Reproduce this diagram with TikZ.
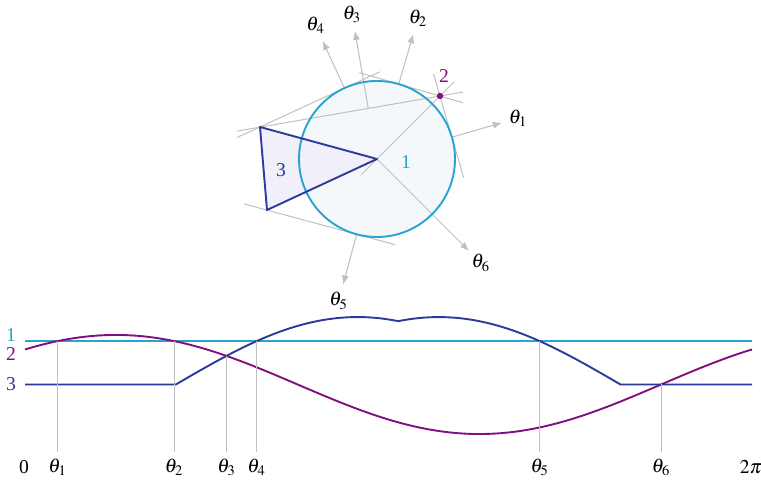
\documentclass[tikz,border=0pt]{standalone}
\usepackage{mathptmx}
\usepackage{fontspec}
\setmainfont{Liberation Serif}
\usepackage{tikz}
\usetikzlibrary{arrows.meta,calc}
\definecolor{cyanc}{RGB}{41,163,208}
\definecolor{purp}{RGB}{128,16,128}
\definecolor{bluec}{RGB}{43,58,156}
\definecolor{grayl}{RGB}{192,192,192}
\definecolor{circfill}{RGB}{244,248,250}
\definecolor{trifill}{RGB}{240,239,250}
\tikzset{
  sline/.style={draw=grayl, line width=0.5pt},
  arr/.style={draw=grayl, fill=grayl, line width=0.5pt, -{Latex[length=4.5pt,width=3.6pt]}},
  lab/.style={font=\fontsize{9.8}{11}\selectfont, inner sep=0pt},
  curve/.style={line width=0.95pt}
}

\begin{document}
\begin{tikzpicture}[x=0.5pt,y=0.5pt]
  \useasboundingbox (0,0) rectangle (761,480);
  \coordinate (c) at (377,321);
  \coordinate (p2) at ($(c)+(63,63)$);
  \coordinate (ta) at ($(c)+(-117,32)$);
  \coordinate (tb) at ($(c)+(-110,-51)$);
  \fill[circfill] (c) circle[radius=78];
  \fill[trifill] (c) -- (ta) -- (tb) -- cycle;
  \foreach \a/\h/\s/\e in {16.2/78/-42/66, 73.8/78/-67/41, 99.8/51.3/-96/133,
                           114.7/78/-39/118, 254.9/78/-117/40, 315/0/-23/109}
    \draw[sline] ($(c)+(\a:\h)+(\a+90:\s)$) -- ($(c)+(\a:\h)+(\a+90:\e)$);
  \foreach \a/\h/\n in {16.2/78/1, 73.8/78/2, 99.8/51.3/3, 114.7/78/4, 254.9/78/5, 315/0/6}{
    \coordinate (f\n) at ($(c)+(\a:\h)$);
    \coordinate (e\n) at ($(c)+(\a:130)$);
    \draw[arr] (f\n) -- (e\n);
    \node[lab] (t\n) at ($(c)+(\a:147)$) {$\theta_{\n}$};
  }
  \draw[cyanc, curve] (c) circle[radius=78];
  \draw[bluec, curve, line join=round] (c) -- (ta) -- (tb) -- cycle;
  \fill[purp] (p2) circle[radius=3.2];
  \node[lab, text=purp] (n2) at ($(p2)+(4,20)$) {2};
  \node[lab, text=cyanc] (n1) at (406,318) {1};
  \node[lab, text=bluec] (n3) at (281,310) {3};

  \draw[cyanc, curve] (25,138.9) -- (752,138.9);
  \draw[purp, curve] plot[domain=0:360, samples=121, smooth]
    ({25+2.01944*\x},{95.5+35.03*(cos(\x)+sin(\x))});
  \draw[bluec, curve] plot[domain=0:360, samples=721]
    ({25+2.01944*\x},{95.5+0.556*max(0,-117*cos(\x)+32*sin(\x),-110*cos(\x)-51*sin(\x))});
  \foreach \a/\h/\n in {16.2/78/1, 73.8/78/2, 99.8/51.3/3, 114.7/78/4, 254.9/78/5, 315/0/6}{
    \coordinate (v\n) at ({25+2.01944*\a},{95.5+0.556*\h});
    \coordinate (w\n) at ({25+2.01944*\a},28);
    \draw[sline] (v\n) -- (w\n);
    \node[lab] (g\n) at ({25+2.01944*\a},13) {$\theta_{\n}$};
  }
  \node[lab] (g0) at (24,13) {0};
  \node[lab] (g7) at (751,13) {$2\pi$};
  \node[lab, text=cyanc] (l1) at (11,145) {1};
  \node[lab, text=purp] (l2) at (11,126) {2};
  \node[lab, text=bluec] (l3) at (11,96) {3};
\end{tikzpicture}
\end{document}
